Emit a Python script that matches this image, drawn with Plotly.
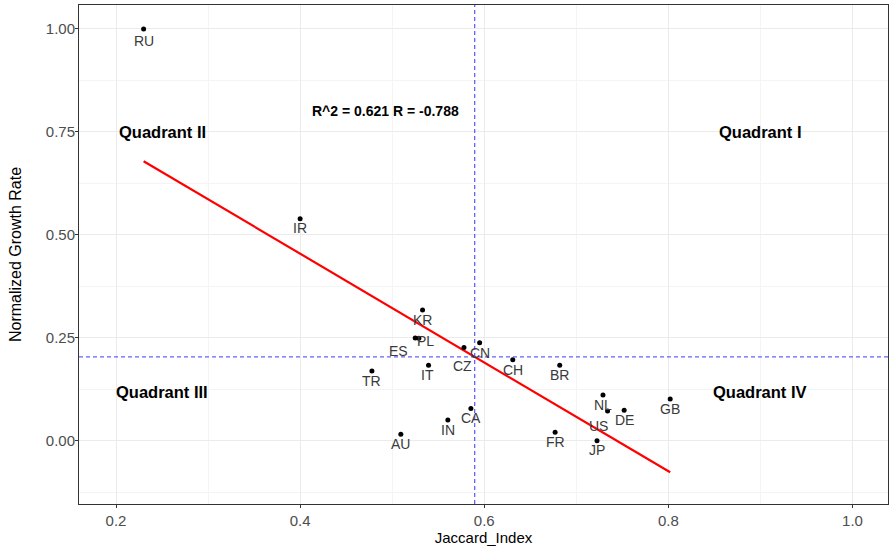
import numpy as np
import plotly.graph_objects as go

# ---- data ----
countries = ["RU", "IR", "KR", "PL", "ES", "CZ", "CN", "CH", "BR", "IT",
             "TR", "CA", "IN", "AU", "FR", "NL", "US", "DE", "GB", "JP"]
jaccard_index = [0.230, 0.400, 0.533, 0.529, 0.525, 0.578, 0.595, 0.631, 0.682, 0.5395,
                 0.478, 0.5855, 0.5605, 0.5094, 0.677, 0.729, 0.734, 0.752, 0.802, 0.7225]
growth_rate = [1.000, 0.539, 0.318, 0.249, 0.250, 0.2265, 0.2386, 0.197, 0.184, 0.184,
               0.170, 0.079, 0.051, 0.016, 0.021, 0.1117, 0.073, 0.0745, 0.102, 0.0008]
quadrant_names = ["Quadrant I", "Quadrant II", "Quadrant III", "Quadrant IV"]
quadrant_x = [0.90, 0.25, 0.25, 0.90]
quadrant_y = [0.75, 0.75, 0.12, 0.12]
stats_text = "R^2 = 0.621 R = -0.788"
stats_pos = (0.493, 0.80)
x_ticks = [0.2, 0.4, 0.6, 0.8, 1.0]
y_ticks = [0.0, 0.25, 0.5, 0.75, 1.0]

# label offsets in pixels (style: repelled text positions)
label_dx = {"PL": 7, "ES": -17, "CZ": -1, "US": -9, "IT": -1}
label_dy = {"RU": -12, "IR": -9, "PL": -3, "ES": -13, "CZ": -18, "US": -15, "JP": -9}

x = np.array(jaccard_index)
y = np.array(growth_rate)
x_mean = x.mean()
y_mean = y.mean()
slope, intercept = np.polyfit(x, y, 1)
fit_x = np.array([x.min(), x.max()])
fit_y = slope * fit_x + intercept

FONT = "Liberation Sans, Arial"

fig = go.Figure()
fig.add_trace(go.Scatter(x=fit_x, y=fit_y, mode="lines",
                         line=dict(color="#FF0000", width=2.2), hoverinfo="skip"))
fig.add_trace(go.Scatter(x=jaccard_index, y=growth_rate, mode="markers",
                         marker=dict(color="black", size=5), text=countries))

annotations = []
for c, xi, yi in zip(countries, jaccard_index, growth_rate):
    annotations.append(dict(x=xi, y=yi, text=c, showarrow=False,
                            xshift=label_dx.get(c, 0), yshift=label_dy.get(c, -10),
                            font=dict(family=FONT, size=14, color="#3A3A3A")))
for q, qx, qy in zip(quadrant_names, quadrant_x, quadrant_y):
    annotations.append(dict(x=qx, y=qy, text="<b>" + q + "</b>", showarrow=False,
                            font=dict(family=FONT, size=16.5, color="black")))
annotations.append(dict(x=stats_pos[0], y=stats_pos[1], text="<b>" + stats_text + "</b>",
                        showarrow=False,
                        font=dict(family=FONT, size=14, color="black")))

shapes = [
    dict(type="line", xref="x", yref="paper", x0=x_mean, x1=x_mean, y0=0, y1=1,
         line=dict(color="rgba(60,60,255,0.8)", width=1.3, dash="4px,3px"), layer="above"),
    dict(type="line", xref="paper", yref="y", x0=0, x1=1, y0=y_mean, y1=y_mean,
         line=dict(color="rgba(60,60,255,0.8)", width=1.3, dash="4px,3px"), layer="above"),
]

axis_common = dict(showline=True, mirror=True, linecolor="#333333", linewidth=1,
                   ticks="outside", ticklen=3, tickcolor="#333333",
                   gridcolor="#EBEBEB", gridwidth=1, zeroline=False, automargin=False,
                   tickfont=dict(family=FONT, size=15, color="#4D4D4D"))

fig.update_layout(
    width=889, height=551,
    margin=dict(l=79, r=1, t=5, b=47),
    paper_bgcolor="white", plot_bgcolor="white",
    showlegend=False,
    annotations=annotations,
    shapes=shapes,
    xaxis=dict(range=[0.1598, 1.0386], tickvals=x_ticks,
               ticktext=[f"{v:.1f}" for v in x_ticks],
               minor=dict(showgrid=True, gridcolor="#F4F4F4", dtick=0.1, tick0=0.1),
               title=dict(text="Jaccard_Index", standoff=4,
                          font=dict(family=FONT, size=15, color="black")),
               **axis_common),
    yaxis=dict(range=[-0.153, 1.058], tickvals=y_ticks,
               ticktext=[f"{v:.2f}" for v in y_ticks],
               ticklabelstandoff=-3,
               minor=dict(showgrid=True, gridcolor="#F4F4F4", dtick=0.125, tick0=0.125),
               title=dict(text="Normalized Growth Rate", standoff=20,
                          font=dict(family=FONT, size=16, color="black")),
               **axis_common),
)

fig.write_html(
    "out.html",
    config={"displayModeBar": False},
    post_script="document.body.style.margin='0';document.body.style.overflow='hidden';",
)
